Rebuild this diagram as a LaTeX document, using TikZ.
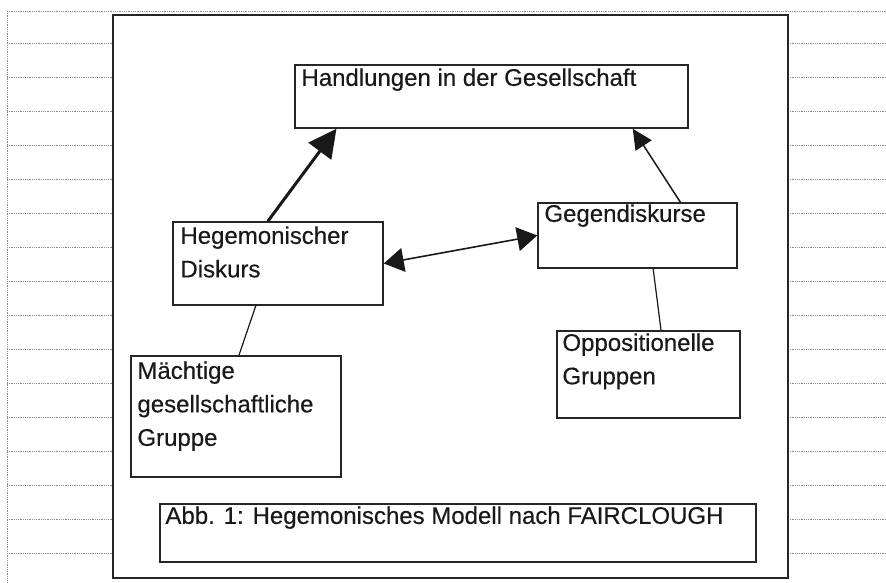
\documentclass[tikz,border=0pt]{standalone}
\usepackage{fontspec}
\setmainfont{Liberation Sans}[BoldFont={Liberation Sans}, BoldFeatures={FakeBold=0.35}]
\usetikzlibrary{arrows.meta, calc, positioning}

\begin{document}
\begin{tikzpicture}[x=1pt, y=-1pt,
      g/.style={draw=black!45, densely dotted, line width=0.8pt},
      b/.style={draw=black!85, line width=1.5pt, inner sep=0},
      l/.style={anchor=north west, inner sep=0, align=left, text=black!90, font=\fontsize{24}{33.5}\selectfont\bfseries},
      c/.style={draw=black!90, line width=1.2pt}]
      \useasboundingbox (0,0) rectangle (886,582);
      % ruled page behind the figure
      \draw[g] (7,11) -- (886,11);
      \draw[g] (7,11) -- (7,582);
      \foreach \y in {43,77,...,553} {
        \draw[g] (7,\y) -- (113,\y);
        \draw[g] (788,\y) -- (886,\y);
      }
      \draw node[b, line width=2.2pt, minimum width=675, minimum height=563] (frame) at (450.5,296.5) {};

      \draw node[b, minimum width=393, minimum height=63] (act) at (491.5,96.5) {};
      \draw node[l] (actT) at ([shift={(7,4)}]act.north west) {Handlungen in der Gesellschaft};

      \draw node[b, minimum width=210, minimum height=83] (heg) at (278,263.5) {};
      \draw node[l] (hegT) at ([shift={(8,5)}]heg.north west) {Hegemonischer\\Diskurs};

      \draw node[b, minimum width=199, minimum height=65] (gegen) at (637.5,235.5) {};
      \draw node[l] (gegenT) at ([shift={(7,2)}]gegen.north west) {Gegendiskurse};

      \draw node[b, minimum width=210, minimum height=121] (macht) at (236,416.5) {};
      \draw node[l] (machtT) at ([shift={(7,6)}]macht.north west) {Mächtige\\gesellschaftliche\\Gruppe};

      \draw node[b, minimum width=183, minimum height=87] (oppo) at (648.5,374.5) {};
      \draw node[l] (oppoT) at ([shift={(6,3)}]oppo.north west) {Oppositionelle\\Gruppen};

      \draw node[b, minimum width=596, minimum height=58] (abb) at (458,533) {};
      \draw node[l] (abbT) at ([shift={(6,3)}]abb.north west) {Abb. 1: Hegemonisches Modell nach FAIRCLOUGH};

      % connectors
      \draw[c, line width=3pt, -{Triangle[length=28pt 0 0,width=28pt 0 0]}] ($(heg.north west)!0.452!(heg.north east)$) -- ($(act.south west)!0.107!(act.south east)$);
      \draw[c, line width=1.5pt, -{Triangle[length=20pt 0 0,width=19pt 0 0]}] ($(gegen.north west)!0.714!(gegen.north east)$) -- ($(act.south west)!0.858!(act.south east)$);
      \draw[c, line width=1.6pt, {Triangle[length=20pt 0 0,width=24pt 0 0]}-{Triangle[length=20pt 0 0,width=24pt 0 0]}] (heg.east) -- (gegen.west);
      \draw[c] ($(heg.south west)!0.395!(heg.south east)$) -- ($(macht.north west)!0.514!(macht.north east)$);
      \draw[c] ($(gegen.south west)!0.578!(gegen.south east)$) -- ($(oppo.north west)!0.568!(oppo.north east)$);
\end{tikzpicture}
\end{document}
